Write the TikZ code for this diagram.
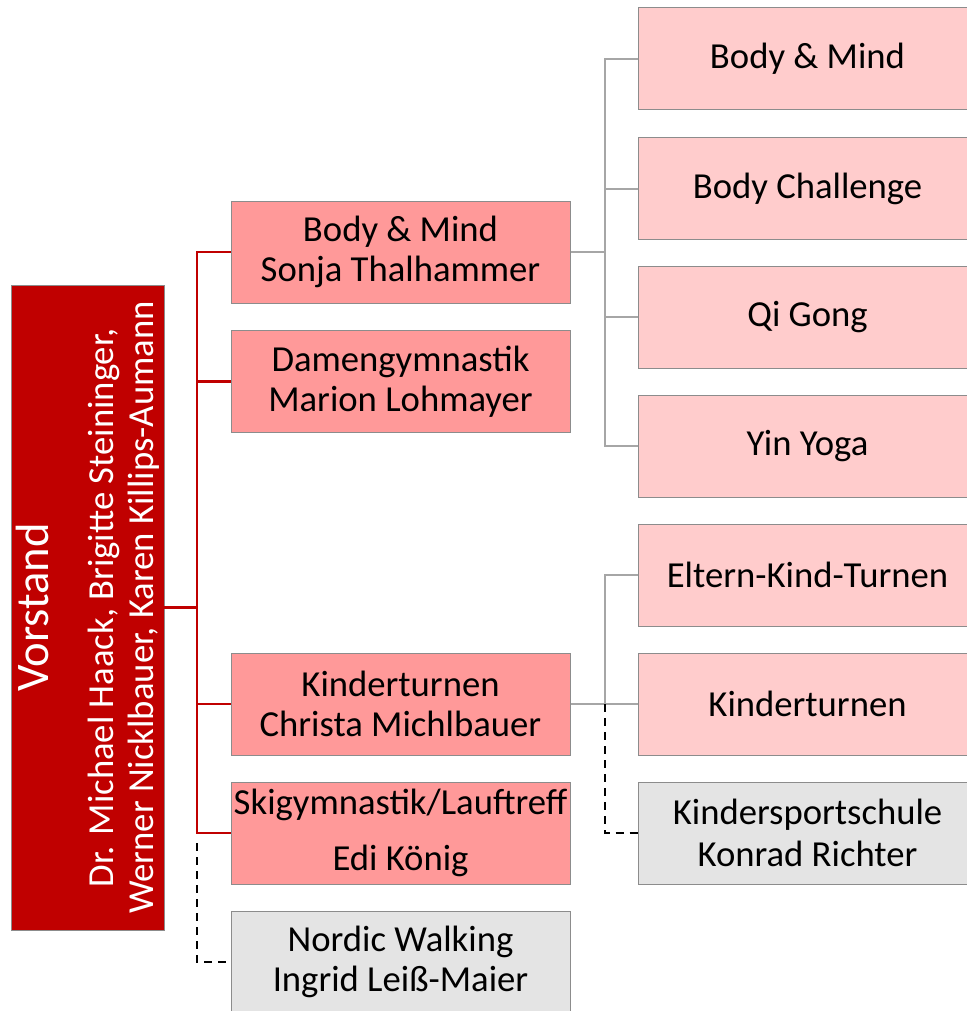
\documentclass[tikz,border=0pt]{standalone}
\usepackage{fontspec}
\setmainfont{Carlito}
\usetikzlibrary{positioning,calc}
\definecolor{vorred}{HTML}{C00000}
\definecolor{midred}{HTML}{FF9999}
\definecolor{lightred}{HTML}{FFCCCC}
\definecolor{boxgray}{HTML}{E4E4E4}
\definecolor{edgegray}{HTML}{8C8C8C}
\definecolor{linegray}{HTML}{A6A6A6}
\newcommand*{\grp}[2]{#1\\#2}
\begin{document}
\begin{tikzpicture}[x=0.75pt,y=-0.75pt,
  box/.style={draw=edgegray,line width=0.75pt,inner sep=0pt,
    minimum width=254.25pt,minimum height=76.5pt,align=center},
  mid/.style={box,fill=midred,font=\fontsize{27.5}{30}\selectfont},
  sub/.style={box,fill=lightred,font=\fontsize{27.5}{31}\selectfont},
  extra/.style={box,fill=boxgray},
  redline/.style={vorred,line width=1.6pt},
  grayline/.style={linegray,line width=1.5pt},
  dashline/.style={black,line width=1.5pt,dash pattern=on 6pt off 4.5pt}]
% Page is 967 x 1011 px, y grows downwards
\useasboundingbox (0,0) rectangle (967,1011);
\clip (0,0) rectangle (967,1011);
% Board on the left, turned upright
\node [draw=edgegray,fill=vorred,text=white,rotate=90,inner sep=0pt,
  minimum width=483.75pt,minimum height=114.75pt,align=center,
  font=\fontsize{27.5}{30}\selectfont]
  (vorstand) at (87.5,607.5)
  {{\fontsize{35}{30}\selectfont Vorstand}\\[19pt]
   Dr. Michael Haack, Brigitte Steininger,\\
   Werner Nicklbauer, Karen Killips-Aumann};
% Departments
\node [mid] (bm)  at (400.5,252) {\grp{Body \& Mind}{Sonja Thalhammer}};
\node [mid] (dg)  at (400.5,381.5) {\grp{Damengymnastik}{Marion Lohmayer}};
\node [mid] (kt)  at (400.5,704) {\grp{Kinderturnen}{Christa Michlbauer}};
\node [mid] (ski) at (400.5,833) {Skigymnastik/Lauftreff\\[12pt]Edi König};
\node [extra,font=\fontsize{27.5}{30}\selectfont] (nw) at (400.5,962)
  {\grp{Nordic Walking}{Ingrid Leiß-Maier}};
% Groups on the right
\node [sub] (r1) at (807.5,58.5)  {Body \& Mind};
\node [sub] (r2) at (807.5,188.5) {Body Challenge};
\node [sub] (r3) at (807.5,317)   {Qi Gong};
\node [sub] (r4) at (807.5,446)   {Yin Yoga};
\node [sub] (r5) at (807.5,575)   {Eltern-Kind-Turnen};
\node [sub] (r6) at (807.5,704)   {Kinderturnen};
\node [extra,font=\fontsize{27.5}{31}\selectfont] (r7) at (807.5,833)
  {\grp{Kindersportschule}{Konrad Richter}};
% Red tree from the board
\draw [redline] (vorstand.south) -- ++(33,0) coordinate (rj);
\foreach \n in {bm,dg,kt,ski}
  \draw [redline] (rj) |- (\n.west);
\draw [dashline] (rj |- ski.west) ++(0,10) |- (nw.west);
% Gray trees to the groups
\draw [grayline] (bm.east) -- ++(34,0) coordinate (gj1);
\foreach \n in {r1,r2,r3,r4}
  \draw [grayline] (gj1) |- (\n.west);
\draw [grayline] (kt.east) -- ++(34,0) coordinate (gj2);
\foreach \n in {r5,r6}
  \draw [grayline] (gj2) |- (\n.west);
\draw [dashline] (gj2) |- (r7.west);
\end{tikzpicture}
\end{document}
